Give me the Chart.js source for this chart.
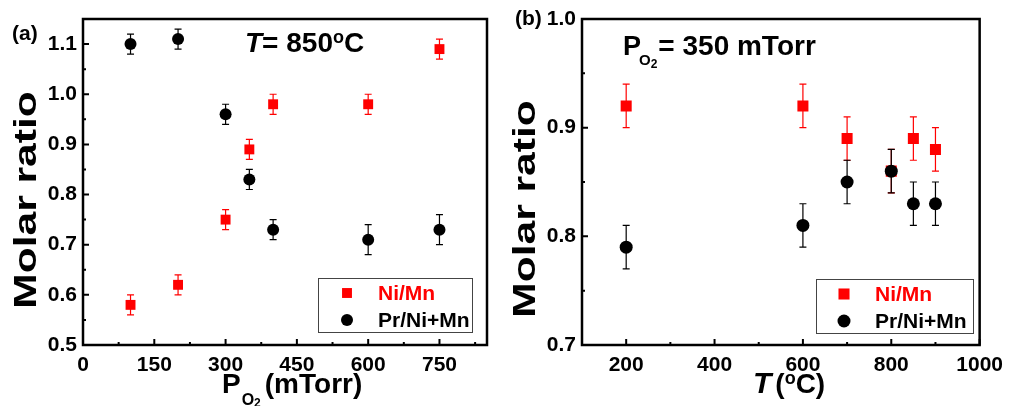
<!DOCTYPE html>
<html>
<head>
<meta charset="utf-8">
<script src="https://cdn.jsdelivr.net/npm/chart.js@4"></script>
<style>
  html, body { margin: 0; padding: 0; background: #fff; }
  #wrap { position: relative; width: 1011px; height: 406px; }
  canvas { position: absolute; top: 0; }
  #cA { left: 0; }
  #cB { left: 500px; }
</style>
</head>
<body>
<div id="wrap">
  <canvas id="cA" width="500" height="406"></canvas>
  <canvas id="cB" width="511" height="406"></canvas>
</div>
<script>
// (a) ratios vs oxygen pressure at 850 C
var pressure = [100, 200, 300, 350, 400, 600, 750];
var niMnA = [0.58, 0.62, 0.75, 0.89, 0.98, 0.98, 1.09];
var niMnErrA = [0.02, 0.02, 0.02, 0.02, 0.02, 0.02, 0.02];
var prA = [1.10, 1.11, 0.96, 0.83, 0.73, 0.71, 0.73];
var prErrA = [0.02, 0.02, 0.02, 0.02, 0.02, 0.03, 0.03];

// (b) ratios vs temperature at 350 mTorr
var temperature = [200, 600, 700, 800, 850, 900];
var niMnB = [0.92, 0.92, 0.89, 0.86, 0.89, 0.88];
var niMnErrB = [0.02, 0.02, 0.02, 0.02, 0.02, 0.02];
var prB = [0.79, 0.81, 0.85, 0.86, 0.83, 0.83];
var prErrB = [0.02, 0.02, 0.02, 0.02, 0.02, 0.02];

// tick values
var xTicksA = [0, 150, 300, 450, 600, 750];
var xMinorA = [75, 225, 375, 525, 675, 825];
var yTicksA = [0.5, 0.6, 0.7, 0.8, 0.9, 1.0, 1.1];
var yMinorA = [0.55, 0.65, 0.75, 0.85, 0.95, 1.05];
var xTicksB = [200, 400, 600, 800, 1000];
var xMinorB = [300, 500, 700, 900];
var yTicksB = [0.7, 0.8, 0.9, 1.0];
var yMinorB = [0.75, 0.85, 0.95];

var labels = ["Ni/Mn", "Pr/Ni+Mn"];
var RED = "#ff0000";
var FONT = "'Liberation Sans', Arial, Helvetica, sans-serif";

function pts(xs, ys) {
    return xs.map(function (x, i) { return { x: x, y: ys[i] }; });
}

// draws a run of text pieces (for sub/superscripts)
function rich(ctx, x, y, parts) {
    parts.forEach(function (p) {
        ctx.font = (p.it ? "italic " : "") + "bold " + p.s + "px " + FONT;
        ctx.fillText(p.t, x, y + (p.dy || 0));
        x += ctx.measureText(p.t).width + (p.dx || 0);
    });
}

function decor(o) {
    return {
        id: "decor",
        beforeDatasetsDraw: function (chart) {
            var ctx = chart.ctx, xs = chart.scales.x, ys = chart.scales.y;
            chart.data.datasets.forEach(function (ds) {
                ctx.save();
                ctx.strokeStyle = ds.backgroundColor;
                ctx.lineWidth = 1.2;
                ds.data.forEach(function (p, i) {
                    var e = ds.errors[i];
                    var px = xs.getPixelForValue(p.x);
                    var y1 = ys.getPixelForValue(p.y + e), y2 = ys.getPixelForValue(p.y - e);
                    ctx.beginPath();
                    ctx.moveTo(px, y1); ctx.lineTo(px, y2);
                    ctx.moveTo(px - o.cap, y1); ctx.lineTo(px + o.cap, y1);
                    ctx.moveTo(px - o.cap, y2); ctx.lineTo(px + o.cap, y2);
                    ctx.stroke();
                });
                ctx.restore();
            });
        },
        afterDraw: function (chart) {
            var ctx = chart.ctx, a = chart.chartArea;
            var xs = chart.scales.x, ys = chart.scales.y;
            ctx.save();
            // inward ticks
            ctx.strokeStyle = "#000";
            ctx.lineWidth = 2;
            ctx.beginPath();
            xs.ticks.forEach(function (t) {
                var px = xs.getPixelForValue(t.value);
                ctx.moveTo(px, a.bottom); ctx.lineTo(px, a.bottom - 6);
            });
            o.xMinor.forEach(function (v) {
                var px = xs.getPixelForValue(v);
                ctx.moveTo(px, a.bottom); ctx.lineTo(px, a.bottom - 3);
            });
            ys.ticks.forEach(function (t) {
                var py = ys.getPixelForValue(t.value);
                ctx.moveTo(a.left, py); ctx.lineTo(a.left + 6, py);
            });
            o.yMinor.forEach(function (v) {
                var py = ys.getPixelForValue(v);
                ctx.moveTo(a.left, py); ctx.lineTo(a.left + 3, py);
            });
            ctx.stroke();
            // frame
            ctx.lineWidth = 2.5;
            ctx.strokeRect(a.left, a.top, a.right - a.left, a.bottom - a.top);

            // legend box
            var L = o.legend;
            ctx.lineWidth = 1;
            ctx.strokeStyle = "#444";
            ctx.strokeRect(L.x + 0.5, L.y + 0.5, L.w, L.h);
            chart.data.datasets.forEach(function (ds, i) {
                var cy = L.y + L.rows[i], cx = L.x + L.mx;
                ctx.fillStyle = ds.backgroundColor;
                if (ds.pointStyle === "rect") {
                    var h = ds.pointRadius * Math.SQRT1_2;
                    ctx.fillRect(cx - h, cy - h, 2 * h, 2 * h);
                } else {
                    ctx.beginPath();
                    ctx.arc(cx, cy, ds.pointRadius, 0, Math.PI * 2);
                    ctx.fill();
                }
                ctx.font = "bold 21px " + FONT;
                ctx.textBaseline = "middle";
                ctx.textAlign = "left";
                ctx.fillText(ds.label, L.x + L.tx, cy + 1);
            });

            // texts
            ctx.fillStyle = "#000";
            ctx.textBaseline = "alphabetic";
            ctx.textAlign = "left";
            o.texts(ctx);

            // y title
            ctx.save();
            ctx.translate(o.yTitle.x, o.yTitle.y);
            ctx.rotate(-Math.PI / 2);
            ctx.scale(1.33, 1);
            ctx.font = "bold 32px " + FONT;
            ctx.textAlign = "center";
            ctx.fillText("Molar ratio", 0, 0);
            ctx.restore();
            ctx.restore();
        }
    };
}

function scaleOpts(min, max, ticks, size, pad, fmt, isX) {
    return {
        type: "linear",
        min: min,
        max: max,
        grid: { display: false, drawTicks: false },
        border: { display: false },
        afterBuildTicks: function (s) {
            s.ticks = ticks.map(function (v) { return { value: v }; });
        },
        afterFit: function (s) {
            if (isX) { s.height = size; } else { s.width = size; }
        },
        ticks: {
            color: "#000",
            font: { family: FONT, size: 21, weight: "bold" },
            padding: pad,
            maxRotation: 0,
            autoSkip: false,
            callback: fmt
        }
    };
}

function intFmt(v) { return String(Math.round(v)); }
function decFmt(v) { return v.toFixed(1); }

function datasets(xs, ni, niErr, pr, prErr, rRect, rCirc) {
    return [
        {
            label: labels[0], data: pts(xs, ni), errors: niErr,
            pointStyle: "rect", pointRadius: rRect, backgroundColor: RED,
            borderWidth: 0, showLine: false, order: 1
        },
        {
            label: labels[1], data: pts(xs, pr), errors: prErr,
            pointStyle: "circle", pointRadius: rCirc, backgroundColor: "#000",
            borderWidth: 0, showLine: false, order: 0
        }
    ];
}

var commonPlugins = { legend: { display: false }, tooltip: { enabled: false } };

new Chart(document.getElementById("cA"), {
    type: "scatter",
    data: { datasets: datasets(pressure, niMnA, niMnErrA, prA, prErrA, 7, 6) },
    options: {
        responsive: false,
        animation: false,
        events: [],
        layout: { padding: { left: 0, top: 19, right: 13, bottom: 0 } },
        plugins: commonPlugins,
        scales: {
            x: scaleOpts(0, 850, xTicksA, 61, 8, intFmt, true),
            y: scaleOpts(0.5, 1.15, yTicksA, 83, 6, decFmt, false)
        }
    },
    plugins: [decor({
        cap: 3.5,
        xMinor: xMinorA,
        yMinor: yMinorA,
        legend: { x: 318, y: 278, w: 154, h: 54, mx: 29, tx: 60, rows: [15, 42] },
        yTitle: { x: 36, y: 200 },
        texts: function (ctx) {
            rich(ctx, 12, 40, [{ t: "(a)", s: 21 }]);
            rich(ctx, 245, 52, [
                { t: "T", s: 28, it: true },
                { t: "= 850", s: 28 },
                { t: "o", s: 18, dy: -9 },
                { t: "C", s: 28 }
            ]);
            rich(ctx, 222, 393, [
                { t: "P", s: 28, dx: 1 },
                { t: "O", s: 16, dy: 12 },
                { t: "2", s: 12, dy: 14, dx: 4 },
                { t: "(mTorr)", s: 28 }
            ]);
        }
    })]
});

new Chart(document.getElementById("cB"), {
    type: "scatter",
    data: { datasets: datasets(temperature, niMnB, niMnErrB, prB, prErrB, 7.8, 6.5) },
    options: {
        responsive: false,
        animation: false,
        events: [],
        layout: { padding: { left: 0, top: 19, right: 26, bottom: 0 } },
        plugins: commonPlugins,
        scales: {
            x: scaleOpts(100, 1000, xTicksB, 61, 8, intFmt, true),
            y: scaleOpts(0.7, 1.0, yTicksB, 82, 6, decFmt, false)
        }
    },
    plugins: [decor({
        cap: 3.5,
        xMinor: xMinorB,
        yMinor: yMinorB,
        legend: { x: 316, y: 279, w: 157, h: 54, mx: 28, tx: 59, rows: [15, 42] },
        yTitle: { x: 35, y: 209 },
        texts: function (ctx) {
            rich(ctx, 15, 25, [{ t: "(b)", s: 21 }]);
            rich(ctx, 123, 55, [
                { t: "P", s: 27, dx: -2 },
                { t: "O", s: 15, dy: 10 },
                { t: "2", s: 12, dy: 13, dx: 1 },
                { t: "= 350 mTorr", s: 28 }
            ]);
            rich(ctx, 253, 393, [
                { t: "T", s: 30, it: true, dx: 4 },
                { t: "(", s: 28 },
                { t: "o", s: 18, dy: -9 },
                { t: "C)", s: 28 }
            ]);
        }
    })]
});
</script>
</body>
</html>
